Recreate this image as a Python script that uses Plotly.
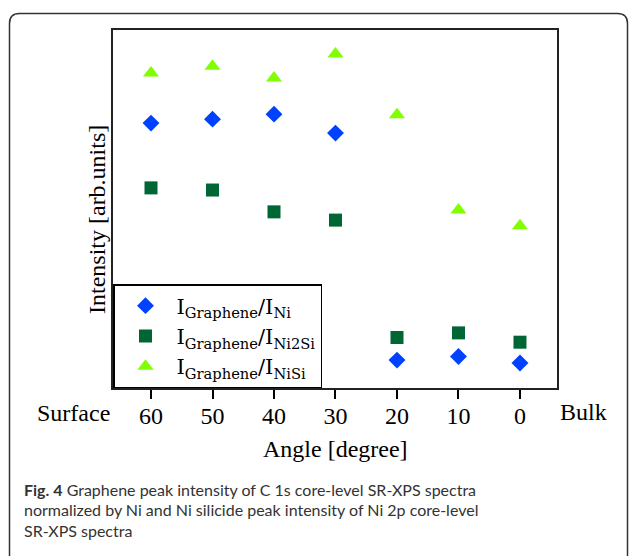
import plotly.graph_objects as go

W, H = 629, 556

# ---- data ----
angles = [60, 50, 40, 30, 20, 10, 0]
tick_labels = ["60", "50", "40", "30", "20", "10", "0"]
ratio_ni = [0.740, 0.751, 0.765, 0.712, 0.078, 0.088, 0.070]
ratio_ni2si = [0.559, 0.553, 0.492, 0.469, 0.141, 0.154, 0.128]
ratio_nisi = [0.880, 0.899, 0.866, 0.933, 0.763, 0.497, 0.453]
series_names = [
    "I<sub>Graphene</sub>/I<sub>Ni</sub>",
    "I<sub>Graphene</sub>/I<sub>Ni2Si</sub>",
    "I<sub>Graphene</sub>/I<sub>NiSi</sub>",
]


def px(x):
    return x / W


def py(y):
    return 1 - y / H


SERIF = "Liberation Serif, Times New Roman, serif"
SANS = "Lato, Liberation Sans Narrow, sans-serif"

fig = go.Figure()
fig.add_trace(go.Scatter(x=angles, y=ratio_ni, mode="markers", name=series_names[0],
                         marker=dict(symbol="diamond", size=13, color="#0040ff")))
fig.add_trace(go.Scatter(x=angles, y=ratio_ni2si, mode="markers", name=series_names[1],
                         marker=dict(symbol="square", size=13, color="#006633")))
fig.add_trace(go.Scatter(x=angles, y=ratio_nisi, mode="markers", name=series_names[2],
                         marker=dict(symbol="triangle-up", size=14, color="#80ff00")))

# rounded outer frame
x0, y0, x1, y1, r = 9.5, 13.5, 627.5, 570, 10
path = (f"M {px(x0)},{py(y1)} L {px(x0)},{py(y0 + r)} "
        f"Q {px(x0)},{py(y0)} {px(x0 + r)},{py(y0)} "
        f"L {px(x1 - r)},{py(y0)} Q {px(x1)},{py(y0)} {px(x1)},{py(y0 + r)} "
        f"L {px(x1)},{py(y1)}")

fig.update_layout(
    width=W, height=H, autosize=False,
    margin=dict(l=0, r=0, t=0, b=0),
    paper_bgcolor="white", plot_bgcolor="white",
    font=dict(family=SERIF, size=24, color="black"),
    showlegend=True,
    legend=dict(x=px(113), y=py(388), xanchor="left", yanchor="bottom",
                bgcolor="white", bordercolor="black", borderwidth=1.5,
                font=dict(family="DejaVu Serif, serif", size=21, color="black"),
                itemsizing="trace", itemwidth=52),
    xaxis=dict(domain=[px(113), px(557)], range=[66.18, -6.02],
               tickvals=angles, ticktext=tick_labels,
               ticks="outside", ticklen=9, tickwidth=1.5, tickcolor="black",
               ticklabelstandoff=-4,
               showline=True, mirror=True, linecolor="#222", linewidth=2,
               showgrid=False, zeroline=False,
               tickfont=dict(family=SERIF, size=24, color="black")),
    yaxis=dict(domain=[py(388), py(30)], range=[0, 1],
               showticklabels=False, ticks="",
               showline=True, mirror=True, linecolor="#222", linewidth=2,
               showgrid=False, zeroline=False),
    shapes=[dict(type="path", xref="paper", yref="paper", path=path,
                 line=dict(color="#333", width=1.5))],
    annotations=[
        dict(text="Surface", x=px(35), y=py(413), xref="paper", yref="paper",
             xanchor="left", yanchor="middle", showarrow=False,
             font=dict(family=SERIF, size=24)),
        dict(text="Bulk", x=px(558), y=py(412), xref="paper", yref="paper",
             xanchor="left", yanchor="middle", showarrow=False,
             font=dict(family=SERIF, size=24)),
        dict(text="Angle [degree]", x=px(335), y=py(449), xref="paper", yref="paper",
             xanchor="center", yanchor="middle", showarrow=False,
             font=dict(family=SERIF, size=24)),
        dict(text="Intensity [arb.units]", x=px(97), y=py(220), xref="paper", yref="paper",
             xanchor="center", yanchor="middle", showarrow=False, textangle=-90,
             font=dict(family=SERIF, size=24)),
        dict(text="<b>Fig. 4</b> Graphene peak intensity of C 1s core-level SR-XPS spectra",
             x=px(22), y=py(489), xref="paper", yref="paper",
             xanchor="left", yanchor="middle", showarrow=False,
             font=dict(family=SANS, size=16, color="#333")),
        dict(text="normalized by Ni and Ni silicide peak intensity of Ni 2p core-level",
             x=px(22), y=py(509.5), xref="paper", yref="paper",
             xanchor="left", yanchor="middle", showarrow=False,
             font=dict(family=SANS, size=16, color="#333")),
        dict(text="SR-XPS spectra",
             x=px(22), y=py(530), xref="paper", yref="paper",
             xanchor="left", yanchor="middle", showarrow=False,
             font=dict(family=SANS, size=16, color="#333")),
    ],
)

fig.write_html("out.html", config={"displayModeBar": False},
               post_script="document.body.style.margin='0';")
